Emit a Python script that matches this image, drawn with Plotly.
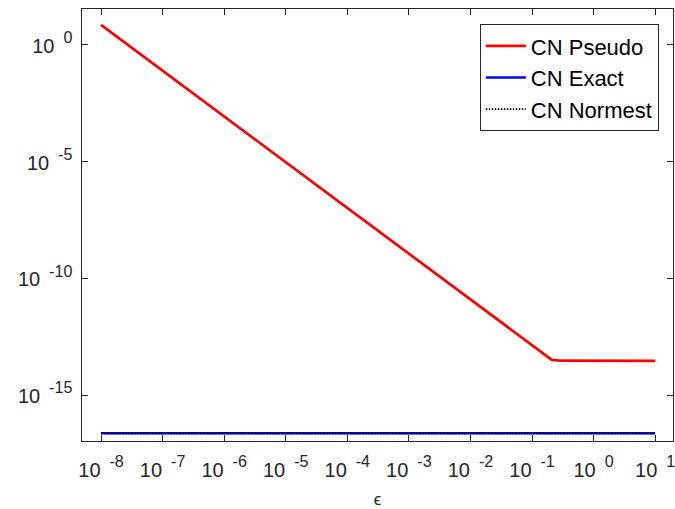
import plotly.graph_objects as go

# epsilon values (x) and condition-number estimates
eps_pseudo = [1e-8, 1e-7, 1e-6, 1e-5, 1e-4, 1e-3, 1e-2, 1e-1, 0.21, 0.3, 1.0, 10.0]
cn_pseudo = [7.2, 7.9e-2, 8.7e-4, 9.5e-6, 1.05e-7, 1.15e-9, 1.26e-11, 1.38e-13,
             3.2e-14, 2.95e-14, 2.9e-14, 2.9e-14]

eps_exact = [1e-8, 1e-6, 1e-4, 1e-2, 1.0, 10.0]
cn_exact = [2.3e-17, 2.3e-17, 2.3e-17, 2.3e-17, 2.3e-17, 2.3e-17]
cn_normest = [2.3e-17, 2.3e-17, 2.3e-17, 2.3e-17, 2.3e-17, 2.3e-17]

x_tick_exps = [-8, -7, -6, -5, -4, -3, -2, -1, 0, 1]
y_tick_exps = [0, -5, -10, -15]

AX = "#262626"
FONT = "Liberation Sans, Arial, Helvetica, sans-serif"

fig = go.Figure()
fig.add_trace(go.Scatter(x=eps_pseudo, y=cn_pseudo, mode="lines", name="CN Pseudo",
                         line=dict(color="#ff0000", width=2.7)))
fig.add_trace(go.Scatter(x=eps_exact, y=cn_exact, mode="lines", name="CN Exact",
                         line=dict(color="#0000ff", width=2.7)))
fig.add_trace(go.Scatter(x=eps_exact, y=cn_normest, mode="lines", name="CN Normest",
                         line=dict(color="#000000", width=1.8, dash="1.5px,1.5px")))

def sup_label(e):
    return "<span style='font-size:20px'>10</span><sup>\u00a0\u00a0%d</sup>" % e

fig.update_layout(
    width=675, height=509,
    margin=dict(l=82, r=2, t=9, b=68),
    paper_bgcolor="white", plot_bgcolor="white",
    font=dict(family=FONT, size=20, color=AX),
    showlegend=True,
    legend=dict(x=0.976, y=0.965, xanchor="right", yanchor="top",
                bgcolor="white", bordercolor=AX, borderwidth=1,
                font=dict(family=FONT, size=22, color="#000000"),
                tracegroupgap=0, itemwidth=40),
    xaxis=dict(type="log", range=[-8.309, 1.29], automargin=False,
               tickvals=[10.0 ** e for e in x_tick_exps],
               ticktext=[sup_label(e) for e in x_tick_exps],
               ticks="inside", ticklen=6, tickcolor=AX, tickwidth=1,
               ticklabelstandoff=7, ticklabeloverflow="allow",
               showline=True, linecolor=AX, linewidth=1, mirror="ticks",
               showgrid=False, zeroline=False,
               tickfont=dict(family=FONT, size=23, color=AX),
               title=dict(text="\u03f5", font=dict(family=FONT, size=17, color=AX), standoff=19)),
    yaxis=dict(type="log", range=[-16.97, 1.54], automargin=False,
               tickvals=[10.0 ** e for e in y_tick_exps],
               ticktext=[sup_label(e) for e in y_tick_exps],
               ticks="inside", ticklen=6, tickcolor=AX, tickwidth=1,
               ticklabelstandoff=4, ticklabeloverflow="allow",
               showline=True, linecolor=AX, linewidth=1, mirror="ticks",
               showgrid=False, zeroline=False,
               tickfont=dict(family=FONT, size=23, color=AX)),
)

fig.write_html("out.html")
